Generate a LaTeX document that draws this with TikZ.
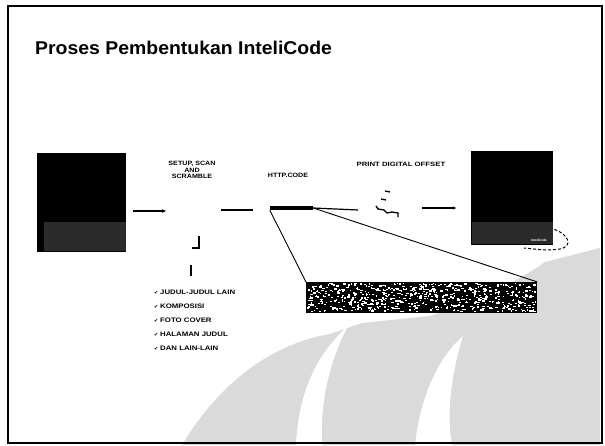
\documentclass[tikz,border=0pt]{standalone}
\usepackage{fontspec}
\usepackage{graphicx}
\setmainfont{Liberation Sans}
\newfontfamily\symfont{DejaVu Sans}
\usetikzlibrary{arrows.meta}
\definecolor{wmgray}{HTML}{DADADA}
\definecolor{boxgray}{HTML}{2B2B2B}
\newcommand{\widetext}[2][1.15]{\scalebox{#1}[1]{#2}}
\newcommand{\chkmark}{{\symfont\fontsize{5}{5}\selectfont ✔}}
\tikzset{
  lbl/.style={font=\bfseries\fontsize{6.2}{7}\selectfont, align=center, inner sep=0pt},
  chk/.style={font=\bfseries\fontsize{6.5}{7}\selectfont, anchor=west, inner sep=0pt},
  conn/.style={line width=1.2pt},
  thin conn/.style={line width=0.9pt},
}
\begin{document}
\begin{tikzpicture}[x=1pt,y=-1pt]
\useasboundingbox (0,0) rectangle (605,445);
\fill[white] (0,0) rectangle (605,445);
% watermark shapes
\fill[wmgray] (182,445) .. controls (215,390) and (265,345) .. (330,334)
   -- (362,323) -- (430,316) .. controls (480,300) and (520,280) .. (545,262)
   -- (600,248) -- (600,445) -- cycle;
\fill[white] (296,445) .. controls (298,400) and (312,358) .. (348,326)
   .. controls (330,360) and (320,400) .. (322,445) -- cycle;
\fill[white] (415,445) .. controls (420,400) and (436,360) .. (463,336)
   .. controls (452,372) and (446,410) .. (452,445) -- cycle;
% frame
\draw[line width=1.2pt] (8,6) rectangle (602,443);
\draw[line width=2.2pt] (8,6) -- (8,443);
\draw[line width=2pt] (8,6) -- (602,6);
% title
\node[anchor=base west, inner sep=0pt, font=\bfseries\fontsize{18.5}{20}\selectfont] (title) at (35,54) {\widetext[1.05]{Proses Pembentukan InteliCode}};
% left box
\node[fill=black, minimum width=89pt, minimum height=99pt, inner sep=0pt, anchor=north west] (lbox) at (37,153) {};
\fill[boxgray] (44,222) rectangle (126,251);
% right box
\node[fill=black, minimum width=82pt, minimum height=94pt, inner sep=0pt, anchor=north west] (rbox) at (471,151) {};
\fill[boxgray] (472,222) rectangle (553,244);
\node[font=\bfseries\fontsize{3.2}{3}\selectfont, text=white, inner sep=0pt] (rlogo) at (539,240) {InteliCode};
\draw[densely dashed, line width=1pt] (rbox.south east) ++(1,-16) coordinate (d0)
   .. controls (568,234) and (574,246) .. (560,249) .. controls (545,251) and (535,249) .. (524,248) coordinate (d1);
% labels
\node[lbl] (ssa) at (192,170) {\widetext{SETUP, SCAN}\\[-0.3pt]\widetext{AND}\\[-0.3pt]\widetext{SCRAMBLE}};
\node[lbl] (http) at (288,175) {\widetext{HTTP.CODE}};
\node[lbl] (pdo) at (401,164) {\widetext[1.25]{PRINT DIGITAL OFFSET}};
% barcode
\node[fill=black, minimum width=43pt, minimum height=4pt, inner sep=0pt] (bar) at (291.5,208) {};
% connectors
\coordinate (a1s) at (133,211);
\coordinate (a1e) at (166,211);
\draw[conn, -{Stealth[length=4pt,width=3.5pt]}] (a1s) -- (a1e);
\coordinate (l2s) at (221,210);
\coordinate (l2e) at (253,210);
\draw[conn] (l2s) -- (l2e);
\coordinate (l3e) at (358,210);
\draw[conn] (bar.east) -- (l3e);
\coordinate (a4s) at (422,208);
\coordinate (a4e) at (456,208);
\draw[conn, -{Stealth[length=3pt,width=3pt]}] (a4s) -- (a4e);
% printer scribbles
\draw[line width=1.3pt] (385,191) -- (390,192);
\draw[line width=1.3pt] (381,199) -- (386,200);
\draw[line width=1.3pt] (376,206) -- (378,209) -- (384,210) -- (387,213) -- (392,212) -- (398,213) -- (398,217);
% noise band
\node[fill=black, minimum width=231pt, minimum height=31pt, inner sep=0pt, anchor=north west] (noise) at (306,282) {};
\pgfmathsetseed{11}
\foreach \i in {1,...,650}{
  \pgfmathsetmacro{\px}{307+228*rnd}
  \pgfmathsetmacro{\py}{283+28*rnd}
  \pgfmathsetmacro{\pw}{1+1.8*rnd}
  \fill[white] (\px,\py) rectangle ++(\pw,1.3);
}
% zoom lines
\draw[thin conn] (bar.south west) -- (noise.north west);
\draw[thin conn] (bar.east) -- (noise.north east);
% small marks under first stage
\draw[line width=1.3pt] (199,236) -- (199,248) -- (192,248);
\draw[line width=1.6pt] (191,265) -- (191,276);
% checklist
\node[chk] (c1) at (154,292) {\chkmark\ \widetext[1.2]{JUDUL-JUDUL LAIN}};
\node[chk] (c2) at (154,306) {\chkmark\ \widetext[1.2]{KOMPOSISI}};
\node[chk] (c3) at (154,320) {\chkmark\ \widetext[1.2]{FOTO COVER}};
\node[chk] (c4) at (154,334) {\chkmark\ \widetext[1.2]{HALAMAN JUDUL}};
\node[chk] (c5) at (154,348) {\chkmark\ \widetext[1.2]{DAN LAIN-LAIN}};
\end{tikzpicture}
\end{document}
